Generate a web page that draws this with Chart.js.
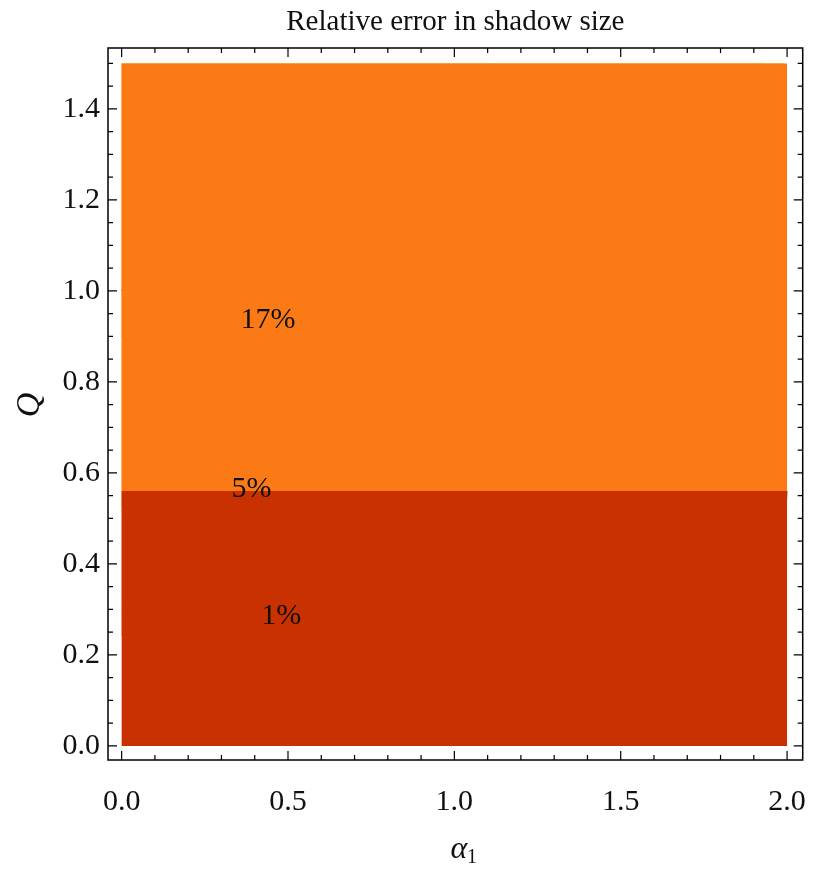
<!DOCTYPE html>
<html>
<head>
<meta charset="utf-8">
<script src="https://cdn.jsdelivr.net/npm/chart.js@4/dist/chart.umd.min.js"></script>
<style>
  body { margin: 0; background: #fff; }
</style>
</head>
<body>
<canvas id="c" width="830" height="874" style="width:830px;height:874px"></canvas>
<script>
// contours, [alpha1, Q]
const edgeCurve = [[0,1.0],[0.2,1.055],[0.4,1.125],[0.6,1.21],[0.8,1.31],[1.0,1.43],[1.11,1.5]];
const contour17 = [[0,0.90],[0.3,0.91],[0.6,0.925],[0.9,0.945],[1.1,0.965],[1.3,0.995],[1.5,1.045],[1.6,1.08],[1.7,1.135],[1.78,1.2],[1.84,1.27],[1.88,1.34],[1.91,1.42],[1.93,1.5]];
const contour5 = [[0,0.53],[0.5,0.533],[1.0,0.54],[1.4,0.548],[1.6,0.555],[1.75,0.567],[1.85,0.585],[1.91,0.61],[1.94,0.64],[1.96,0.7],[1.97,0.8],[1.98,1.0],[1.985,1.25],[1.99,1.5]];
const contour1 = [[0,0.245],[0.5,0.245],[1.0,0.246],[1.5,0.248],[1.8,0.253],[1.9,0.258],[1.95,0.265],[1.975,0.28],[1.985,0.32],[1.99,0.4],[1.995,0.5],[2.0,0.56]];
const levelLabels = ['17%', '5%', '1%'];
const labelSpots = [[0.44,0.935],[0.39,0.565],[0.48,0.285]];
const xTicks = [0, 0.5, 1.0, 1.5, 2.0];
const yTicks = [0, 0.2, 0.4, 0.6, 0.8, 1.0, 1.2, 1.4];

const pts = a => a.map(p => ({x: p[0], y: p[1]}));
const above = c => pts([...c, [0, 1.5]]);

function region(data, color) {
  return { data: data, showLine: true, fill: 'shape', backgroundColor: color,
           borderWidth: 0, pointRadius: 0, tension: 0 };
}
function line(data, color, w) {
  return { data: pts(data), showLine: true, fill: false, borderColor: color,
           borderWidth: w, pointRadius: 0, tension: 0.3 };
}

const serif = '"Liberation Serif", "DejaVu Serif", serif';

const decor = {
  id: 'decor',
  afterDraw(chart) {
    const ctx = chart.ctx, xs = chart.scales.x, ys = chart.scales.y, a = chart.chartArea;
    ctx.save();
    ctx.strokeStyle = '#000';
    ctx.lineWidth = 1.5;
    ctx.strokeRect(a.left, a.top, a.right - a.left, a.bottom - a.top);
    ctx.lineWidth = 1.2;
    for (let i = 0; i <= 20; i++) {
      const v = i / 10, px = xs.getPixelForValue(v), len = i % 5 === 0 ? 9 : 5;
      ctx.beginPath();
      ctx.moveTo(px, a.bottom); ctx.lineTo(px, a.bottom - len);
      ctx.moveTo(px, a.top); ctx.lineTo(px, a.top + len);
      ctx.stroke();
    }
    for (let i = 0; i <= 30; i++) {
      const v = i / 20, py = ys.getPixelForValue(v), len = i % 4 === 0 ? 9 : 5;
      ctx.beginPath();
      ctx.moveTo(a.left, py); ctx.lineTo(a.left + len, py);
      ctx.moveTo(a.right, py); ctx.lineTo(a.right - len, py);
      ctx.stroke();
    }
    ctx.fillStyle = '#111';
    ctx.font = '30px ' + serif;
    ctx.textAlign = 'center';
    ctx.textBaseline = 'middle';
    levelLabels.forEach((t, i) => {
      ctx.fillText(t, xs.getPixelForValue(labelSpots[i][0]), ys.getPixelForValue(labelSpots[i][1]));
    });
    ctx.font = '29px ' + serif;
    ctx.fillText('Relative error in shadow size', (a.left + a.right) / 2, 22);
    ctx.font = 'italic 32px ' + serif;
    ctx.fillText('α', 459, 850);
    ctx.font = '20px ' + serif;
    ctx.fillText('1', 472, 858);
    ctx.save();
    ctx.translate(30, 405);
    ctx.rotate(-Math.PI / 2);
    ctx.font = 'italic 34px ' + serif;
    ctx.fillText('Q', 0, 0);
    ctx.restore();
    ctx.restore();
  }
};

new Chart(document.getElementById('c'), {
  type: 'scatter',
  data: {
    datasets: [
      region(pts([[0,0],[2,0],[2,0.56],[0,0.56]]), '#c93100'),
      region(pts([...contour1, [2,1.5], [0,1.5]]), '#fb7a15'),
      region(above(contour5), '#fca30e'),
      region(above(contour17), '#ffcd2a'),
      region(pts([...edgeCurve, [2.1,1.5], [2.1,1.6], [-0.1,1.6], [-0.1,1.5], [0,1.5]]), '#ffffff'),
      line(contour17, '#5a5a3a', 1),
      line(contour5, '#5a5a3a', 1),
      line(contour1, '#5a5a3a', 1),
      line(edgeCurve, '#000', 3.5)
    ]
  },
  options: {
    responsive: false,
    animation: false,
    devicePixelRatio: 1,
    layout: { padding: { top: 48, right: 8, left: 0, bottom: 0 } },
    plugins: { legend: { display: false }, tooltip: { enabled: false } },
    scales: {
      x: {
        type: 'linear', min: -0.041, max: 2.047,
        afterBuildTicks: s => { s.ticks = xTicks.map(v => ({value: v})); },
        afterFit: s => { s.height = 114; },
        grid: { display: false, drawTicks: false },
        border: { display: false },
        ticks: { padding: 24, color: '#111', font: { family: serif, size: 30 },
                 callback: v => v.toFixed(1), maxRotation: 0 }
      },
      y: {
        type: 'linear', min: -0.031, max: 1.534,
        afterBuildTicks: s => { s.ticks = yTicks.map(v => ({value: v})); },
        afterFit: s => { s.width = 108; },
        grid: { display: false, drawTicks: false },
        border: { display: false },
        ticks: { padding: 8, color: '#111', font: { family: serif, size: 30 },
                 callback: v => v.toFixed(1) }
      }
    }
  },
  plugins: [decor]
});
</script>
</body>
</html>
